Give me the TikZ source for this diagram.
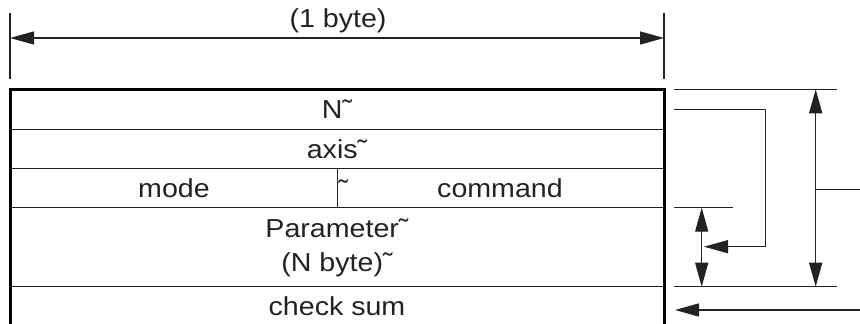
\documentclass[tikz,border=0pt]{standalone}
\usepackage{fontspec}
\usepackage{graphicx}
\setmainfont{Liberation Sans}
\usetikzlibrary{arrows.meta}
\definecolor{ink}{HTML}{222222}
\tikzset{
  thin line/.style={draw=ink, line width=1.4pt},
  thick line/.style={draw=black, line width=3pt},
  tip/.style={-{Triangle[length=24pt,width=13pt]}},
  tips/.style={{Triangle[length=24pt,width=13pt]}-{Triangle[length=24pt,width=13pt]}},
  lbl/.style={inner sep=0pt, text=ink, font=\fontsize{26}{30}\selectfont},
}
\newcommand{\wide}[1]{\scalebox{1.1}[1]{#1}}
\begin{document}
\begin{tikzpicture}[x=1pt,y=-1pt]
\useasboundingbox (0,0) rectangle (860,324);
% top dimension
\coordinate (tl1) at (10,13); \coordinate (tl2) at (10,79);
\coordinate (tr1) at (664,13); \coordinate (tr2) at (664,79);
\coordinate (ta) at (10,38); \coordinate (tb) at (664,38);
\draw[thin line] (tl1) -- (tl2);
\draw[thin line] (tr1) -- (tr2);
\draw[thin line, tips] (ta) -- (tb);
\node[lbl] (byte) at (338,21) {\wide{(1 byte)}};
% box
\coordinate (bl) at (10,326); \coordinate (btl) at (10,89);
\coordinate (btr) at (664,89); \coordinate (br) at (664,326);
\foreach \y/\n in {129.3/a,168.7/b,207.7/c,286.5/d}{
  \coordinate (L\n) at (10,\y); \coordinate (R\n) at (664,\y);
  \draw[thin line] (L\n) -- (R\n);
}
\coordinate (dv1) at (337.7,168.7); \coordinate (dv2) at (337.7,207.7);
\draw[thin line] (dv1) -- (dv2);
\draw[thick line] (bl) -- (btl) -- (btr) -- (br);
% labels
\node[lbl] (n) at (337,109) {\wide{N˜}};
\node[lbl] (axis) at (337,149) {\wide{axis˜}};
\node[lbl] (mode) at (174,188) {\wide{mode}};
\node[lbl, anchor=base west] (tl) at (338.5,198) {\wide{˜}};
\node[lbl] (cmd) at (500,188) {\wide{command}};
\node[lbl] (par) at (337,228) {\wide{Parameter˜}};
\node[lbl] (nb) at (337,265) {\wide{(N byte)˜}};
\node[lbl] (cs) at (337,306) {\wide{check sum}};
% right annotations
\coordinate (h1a) at (674,89.3); \coordinate (h1b) at (837,89.3);
\coordinate (h2a) at (674,286.7); \coordinate (h2b) at (837,286.7);
\coordinate (h3a) at (674,207.7); \coordinate (h3b) at (733,207.7);
\draw[thin line] (h1a) -- (h1b);
\draw[thin line] (h2a) -- (h2b);
\draw[thin line] (h3a) -- (h3b);
\coordinate (k1) at (674,109.3); \coordinate (k2) at (765.7,109.3);
\coordinate (k3) at (765.7,246.7); \coordinate (k4) at (704,246.7);
\draw[thin line, tip] (k1) -- (k2) -- (k3) -- (k4);
\coordinate (s1) at (701.7,207.7); \coordinate (s2) at (701.7,286.7);
\draw[thin line, tips] (s1) -- (s2);
\coordinate (b1) at (815.7,89.3); \coordinate (b2) at (815.7,286.7);
\draw[thin line, tips] (b1) -- (b2);
\coordinate (m1) at (815.7,189.3); \coordinate (m2) at (861,189.3);
\draw[thin line] (m1) -- (m2);
\coordinate (e1) at (861,310); \coordinate (e2) at (675,310);
\draw[thin line, tip] (e1) -- (e2);
\end{tikzpicture}
\end{document}
